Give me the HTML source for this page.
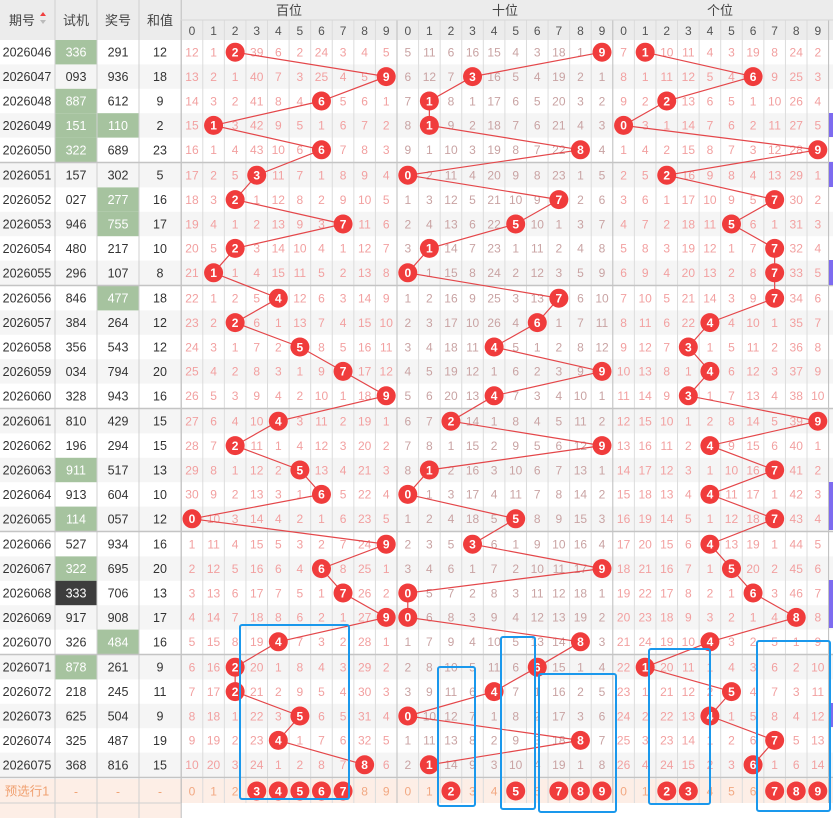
<!DOCTYPE html>
<html><head><meta charset="utf-8"><style>
html,body{margin:0;padding:0;background:#fff;width:833px;height:818px;overflow:hidden}
svg{display:block;font-family:"Liberation Sans","Noto Sans CJK SC",sans-serif}
</style></head><body>
<svg id="s" width="833" height="818" xmlns="http://www.w3.org/2000/svg">
<rect x="0" y="0" width="833" height="40" fill="#ececec"/>
<text x="22" y="25" font-size="13" fill="#444" text-anchor="middle">期号</text>
<path d="M40 16 l3 -4 l3 4z" fill="#f04040"/><path d="M40 20 l3 4 l3 -4z" fill="#bbb"/>
<text x="76" y="25" font-size="13" fill="#444" text-anchor="middle">试机</text>
<text x="118" y="25" font-size="13" fill="#444" text-anchor="middle">奖号</text>
<text x="160" y="25" font-size="13" fill="#444" text-anchor="middle">和值</text>
<text x="289" y="15" font-size="13" fill="#444" text-anchor="middle">百位</text>
<text x="505" y="15" font-size="13" fill="#444" text-anchor="middle">十位</text>
<text x="720" y="15" font-size="13" fill="#444" text-anchor="middle">个位</text>
<g id="g"></g>
</svg>
<script>
(function(){
var NS="http://www.w3.org/2000/svg",G=document.getElementById('g');
function el(t,a,txt){var e=document.createElementNS(NS,t);for(var k in a)e.setAttribute(k,a[k]);if(txt!==undefined)e.textContent=txt;G.appendChild(e);return e;}
var jh="291,936,612,110,689,302,277,755,217,107,477,264,543,794,943,429,294,517,604,057,934,695,706,908,484,261,245,504,487,816".split(',');
var sj="336,093,887,151,322,157,027,946,480,296,846,384,356,034,328,810,196,911,913,114,527,322,333,917,326,878,218,625,325,368".split(',');
var hz=[12,18,9,2,23,5,16,17,10,8,18,12,12,20,16,15,15,13,10,12,16,20,13,17,16,9,11,9,19,15];
var sjG=[0,2,3,4,17,19,21,25],sjD=[22],jhG=[3,6,7,10,24];
var init=[[12,1,0,39,6,2,24,3,4,5],[5,11,6,16,15,4,3,18,1,0],[7,0,10,11,4,3,19,8,24,2]];
var W=21.58,X0=181.2,RH=24.4;
function rt(i){return 40+i*RH+Math.floor(i/5);}
function cx(s,c){return X0+(s*10+c)*W+W/2;}
for(var i=0;i<30;i++){if(i%2==1)el('rect',{x:0,y:rt(i),width:833,height:RH,fill:'#f5f5f5'});}
var pt=rt(30)+1;
el('rect',{x:0,y:pt,width:833,height:24,fill:'#fdeee6'});
el('rect',{x:0,y:pt+24,width:181,height:818-pt-24,fill:'#fdeee6'});
sjG.forEach(function(i){el('rect',{x:55,y:rt(i),width:42,height:RH,fill:'#a6c39f'});});
sjD.forEach(function(i){el('rect',{x:55,y:rt(i),width:42,height:RH,fill:'#3d3d3d'});});
jhG.forEach(function(i){el('rect',{x:97,y:rt(i),width:42,height:RH,fill:'#a6c39f'});});
for(var k=0;k<=30;k++){var x=X0+k*W;el('line',{x1:x,y1:20,x2:x,y2:pt+24,stroke:(k%10==0)?'#bdbdbd':'#dcdcdc','stroke-width':1});}
[55,97,139].forEach(function(x){el('line',{x1:x,y1:0,x2:x,y2:818,stroke:'#d0d0d0'});});
el('line',{x1:181.2,y1:0,x2:181.2,y2:818,stroke:'#bdbdbd'});
el('line',{x1:181,y1:20,x2:833,y2:20,stroke:'#d6d6d6'});
for(var g=1;g<=6;g++){var y=rt(g*5)-0.5;el('line',{x1:0,y1:y,x2:833,y2:y,stroke:'#c4c4c4','stroke-width':1.5});}
el('line',{x1:0,y1:pt+24,x2:181,y2:pt+24,stroke:'#d0d0d0'});
for(var s=0;s<3;s++)for(var c=0;c<10;c++)el('text',{x:cx(s,c),y:35,'font-size':12,fill:'#555','text-anchor':'middle'},c);
for(var i=0;i<30;i++){var y=rt(i)+RH/2+4.5;
el('text',{x:27,y:y,'font-size':12.5,fill:'#333','text-anchor':'middle'},'20260'+(46+i));
var dk=sjG.indexOf(i)>=0||sjD.indexOf(i)>=0;
el('text',{x:76,y:y,'font-size':12.5,fill:dk?'#fff':'#333','text-anchor':'middle'},sj[i]);
el('text',{x:118,y:y,'font-size':12.5,fill:jhG.indexOf(i)>=0?'#fff':'#333','text-anchor':'middle'},jh[i]);
el('text',{x:160,y:y,'font-size':12.5,fill:'#333','text-anchor':'middle'},hz[i]);}
var cur=init.map(function(a){return a.slice();});
var pts=[[],[],[]],circles=[],prevHit=[-1,-1,-1];
for(var i=0;i<30;i++){var y=rt(i)+RH/2;
for(var s=0;s<3;s++){var d=+jh[i][s];
 if(i>0){for(var c=0;c<10;c++){cur[s][c]=(prevHit[s]==c)?1:cur[s][c]+1;}}
 for(var c=0;c<10;c++){if(c==d)continue;
  el('text',{x:cx(s,c),y:y+4.3,'font-size':12,fill:s==1?'#c9a3a3':'#f2a0a0','text-anchor':'middle'},cur[s][c]);}
 pts[s].push([cx(s,d),y]);circles.push([cx(s,d),y,d]);}
prevHit=[+jh[i][0],+jh[i][1],+jh[i][2]];}
pts.forEach(function(p){el('polyline',{points:p.map(function(q){return q[0]+','+q[1];}).join(' '),fill:'none',stroke:'#e4474a','stroke-width':1.2});});
function circ(x,y,d){el('circle',{cx:x,cy:y,r:9.5,fill:'#f03c3c'});el('text',{x:x,y:y+4.3,'font-size':12,'font-weight':'bold',fill:'#fff','text-anchor':'middle'},d);}
circles.forEach(function(q){circ(q[0],q[1],q[2]);});
var py=pt+12;
el('text',{x:27,y:py+4.5,'font-size':12.5,fill:'#f0a070','text-anchor':'middle'},'预选行1');
[76,118,160].forEach(function(x){el('text',{x:x,y:py+4.5,'font-size':12,fill:'#f0a070','text-anchor':'middle'},'-');});
var sel=[[3,4,5,6,7],[2,5,7,8,9],[2,3,7,8,9]];
for(var s=0;s<3;s++)for(var c=0;c<10;c++){if(sel[s].indexOf(c)>=0)circ(cx(s,c),py,c);else el('text',{x:cx(s,c),y:py+4.3,'font-size':12,fill:'#f2a882','text-anchor':'middle'},c);}
[[113,137],[162,187],[260,285],[482,530],[580,628],[703,727]].forEach(function(r){el('rect',{x:829,y:r[0],width:4,height:r[1]-r[0],fill:'#7d6bf0'});});
[[240,625,349,799],[438,667,475,806],[501,637,535,809],[539,674,616,812],[649,649,710,804],[757,641,830,811]].forEach(function(b){el('rect',{x:b[0],y:b[1],width:b[2]-b[0],height:b[3]-b[1],rx:2,fill:'none',stroke:'#1a98ec','stroke-width':2});});
})();
</script>
</body></html>
